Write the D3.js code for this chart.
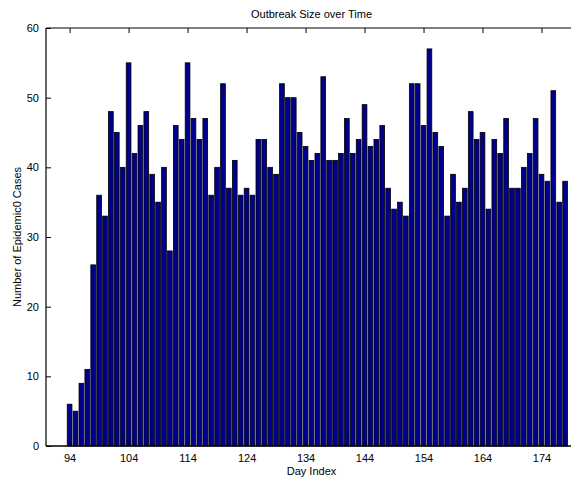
<!DOCTYPE html>
<html>
<head>
<meta charset="utf-8">
<script src="https://cdn.jsdelivr.net/npm/d3@7"></script>
<style>
  body { margin: 0; background: #fff; }
  text { font-family: "Liberation Sans", Arial, sans-serif; fill: #000; }
</style>
</head>
<body>
<div id="chart-area"></div>
<script>
// days shown on the x axis
let days = d3.range(94, 179);
// outbreak size per day
let cases = [6, 5, 9, 11, 26, 36, 33, 48, 45, 40,
             55, 42, 46, 48, 39, 35, 40, 28, 46, 44,
             55, 47, 44, 47, 36, 40, 52, 37, 41, 36,
             37, 36, 44, 44, 40, 39, 52, 50, 50, 45,
             43, 41, 42, 53, 41, 41, 42, 47, 42, 44,
             49, 43, 44, 46, 37, 34, 35, 33, 52, 52,
             46, 57, 45, 43, 33, 39, 35, 37, 48, 44,
             45, 34, 44, 42, 47, 37, 37, 40, 42, 47,
             39, 38, 51, 35, 38];
let xTicks = [94, 104, 114, 124, 134, 144, 154, 164, 174];
let yTicks = [0, 10, 20, 30, 40, 50, 60];

let data = days.map((d, i) => ({day: d, value: cases[i]}));

let margin = {top: 28, right: 0, bottom: 32, left: 46};
let width = 571 - margin.left - margin.right,
    height = 478 - margin.top - margin.bottom;

let svg = d3.select("#chart-area").append("svg")
    .attr("width", 571)
    .attr("height", 478)
    .append("g")
    .attr("transform", "translate(" + margin.left + "," + margin.top + ")");

let x = d3.scaleLinear().domain([90, 179]).range([0, width]);
let y = d3.scaleLinear().domain([0, 60]).range([height, 0]);
let barW = (x(1) - x(0)) * 0.8;

// bars
svg.selectAll(".bar")
    .data(data)
    .enter().append("rect")
    .attr("class", "bar")
    .attr("x", d => x(d.day) - barW / 2)
    .attr("width", barW)
    .attr("y", d => y(d.value))
    .attr("height", d => y(0) - y(d.value))
    .attr("fill", "#00008c")
    .attr("stroke", "#000")
    .attr("stroke-width", 0.8);

// baseline where there are no bars
svg.append("line")
    .attr("x1", 0).attr("x2", width)
    .attr("y1", height).attr("y2", height)
    .attr("stroke", "#000");

// axes, matlab style (ticks pointing in)
let xAxis = svg.append("g")
    .attr("transform", "translate(0," + height + ")")
    .call(d3.axisBottom(x).tickValues(xTicks).tickSize(-5).tickPadding(8));
let xTop = svg.append("g")
    .call(d3.axisTop(x).tickValues(xTicks).tickSize(-5).tickFormat(""));
let yAxis = svg.append("g")
    .call(d3.axisLeft(y).tickValues(yTicks).tickSize(-5).tickPadding(7));

[xAxis, xTop, yAxis].forEach(a => {
    a.select(".domain").attr("stroke", "#000").attr("stroke-width", 1.2);
    a.selectAll(".tick line").attr("stroke", "#000");
    a.selectAll("text").style("font-size", "11px")
        .style("font-family", "'Liberation Sans', Arial, sans-serif");
});
xTop.select(".domain").attr("d", "M0,0H" + width);
xAxis.select(".domain").attr("d", "M0,0H" + width);
yAxis.select(".domain").attr("d", "M0," + height + "V0");

svg.append("text")
    .attr("x", width / 2 + 3)
    .attr("y", -10)
    .attr("text-anchor", "middle")
    .style("font-size", "11px")
    .text("Outbreak Size over Time");

svg.append("text")
    .attr("x", width / 2 + 3)
    .attr("y", height + 29)
    .attr("text-anchor", "middle")
    .style("font-size", "11px")
    .text("Day Index");

svg.append("text")
    .attr("transform", "rotate(-90)")
    .attr("x", -height / 2)
    .attr("y", -25)
    .attr("text-anchor", "middle")
    .style("font-size", "11px")
    .text("Number of Epidemic0 Cases");
</script>
</body>
</html>
